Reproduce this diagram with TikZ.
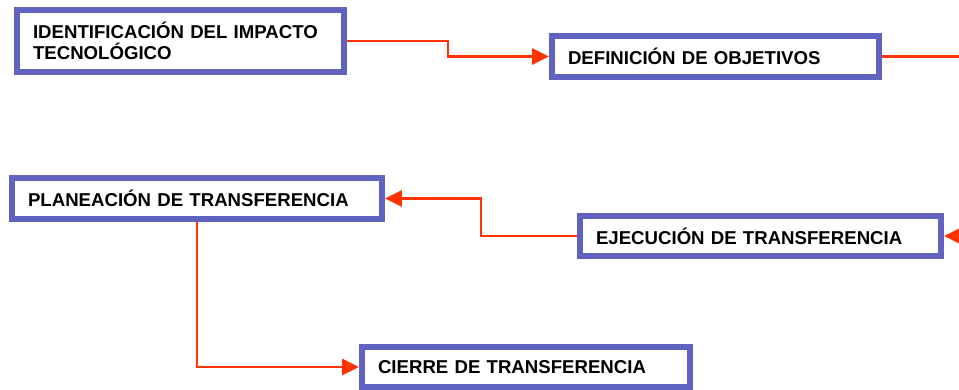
\documentclass[tikz,border=0pt]{standalone}
\usepackage{fontspec}
\setmainfont{Liberation Sans}
\usetikzlibrary{positioning,arrows.meta}

\definecolor{borde}{RGB}{96,100,192}
\definecolor{linea}{RGB}{255,51,0}

\begin{document}
\begin{tikzpicture}[
    x=0.02cm, y=-0.02cm,
    >={Triangle[length=0.34cm,width=0.32cm]},
    caja/.style={draw=borde, line width=0.12cm, fill=white, inner xsep=0.32cm, inner ysep=0pt,
        align=left, minimum height=0.82cm, font=\fontsize{10.6pt}{12pt}\selectfont\bfseries},
    flecha/.style={draw=linea, line width=0.055cm}
]
\useasboundingbox (0,0) rectangle (959,389);

\node[caja, text width=5.9cm, minimum height=1.24cm] (ident) at (180.5,41) {IDENTIFICACIÓN DEL IMPACTO\\TECNOLÓGICO};
\node[caja, text width=5.9cm] (obj) at (715.5,56.5) {DEFINICIÓN DE OBJETIVOS};
\node[caja, text width=6.76cm] (plan) at (197,198.5) {PLANEACIÓN DE TRANSFERENCIA};
\node[caja, text width=6.58cm, minimum height=0.8cm] (ejec) at (760.5,236) {EJECUCIÓN DE TRANSFERENCIA};
\node[caja, text width=5.92cm, minimum height=0.8cm] (cierre) at (526,367) {CIERRE DE TRANSFERENCIA};

\coordinate (c1) at (448,49);
\coordinate (c2) at (481,218);
\coordinate (salida) at (959,56.5);
\coordinate (entrada) at (959,236);

\draw[flecha,->] (ident.east) -| (c1) |- (obj.west);
\draw[flecha] (obj.east) -- (salida);
\draw[flecha,->] (entrada) -- (ejec.east);
\draw[flecha,->] (ejec.west) -| (c2) |- (plan.east);
\draw[flecha,->] (plan.south) |- (cierre.west);

\end{tikzpicture}
\end{document}
